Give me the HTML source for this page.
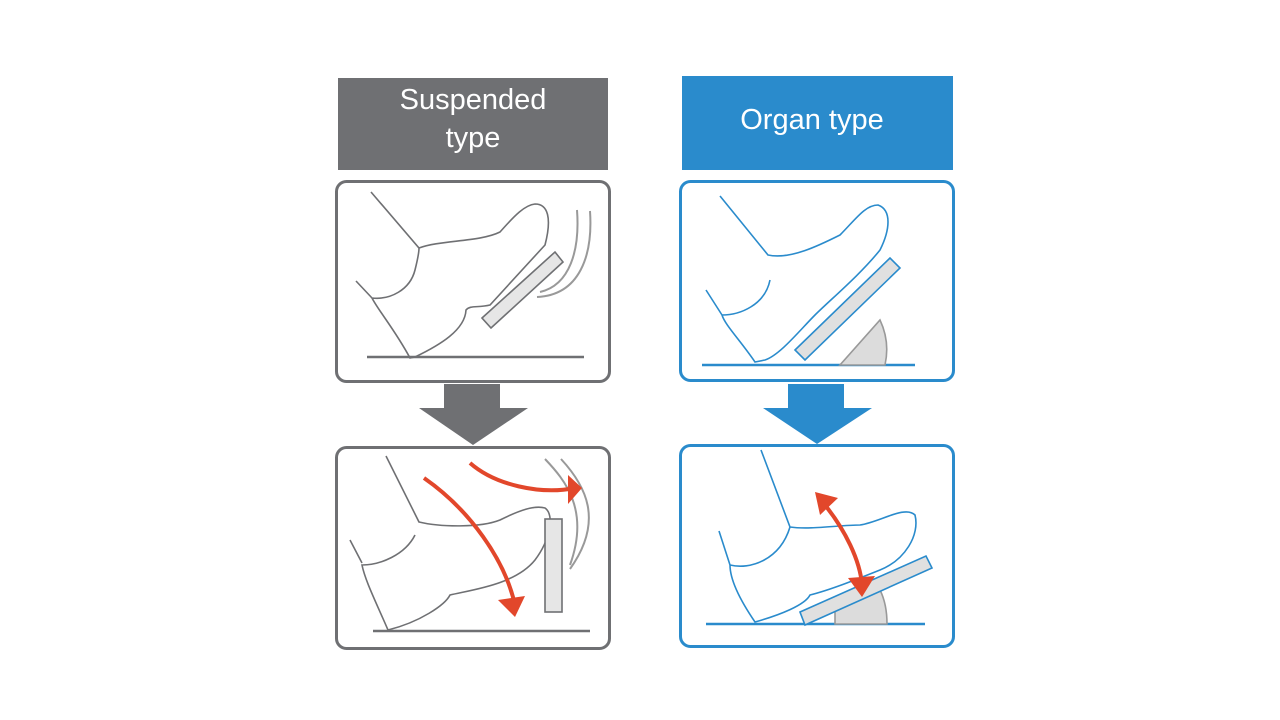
<!DOCTYPE html>
<html><head><meta charset="utf-8"><style>
html,body{margin:0;padding:0;background:#fff;width:1280px;height:720px;overflow:hidden}
svg{display:block}
text{font-family:"Liberation Sans",sans-serif;fill:#fff;font-size:29px}
</style></head><body>
<svg width="1280" height="720" viewBox="0 0 1280 720">
<defs>
<marker id="ah" markerWidth="6" markerHeight="6" refX="3" refY="3" orient="auto" markerUnits="userSpaceOnUse" viewBox="0 0 6 6"><path d="M0,0 L6,3 L0,6 z" fill="#e2472b"/></marker>
</defs>
<!-- headers -->
<rect x="338" y="78" width="270" height="92" fill="#6f7073"/>
<text x="473" y="109" text-anchor="middle">Suspended</text>
<text x="473" y="147" text-anchor="middle">type</text>
<rect x="682" y="76" width="271" height="94" fill="#2a8bcc"/>
<text x="812" y="129" text-anchor="middle">Organ type</text>

<!-- panels -->
<rect x="336.5" y="181.5" width="273" height="200" rx="10" fill="#fff" stroke="#6f7073" stroke-width="3"/>
<rect x="336.5" y="447.5" width="273" height="201" rx="10" fill="#fff" stroke="#6f7073" stroke-width="3"/>
<rect x="680.5" y="181.5" width="273" height="199" rx="10" fill="#fff" stroke="#2a8bcc" stroke-width="3"/>
<rect x="680.5" y="445.5" width="273" height="201" rx="10" fill="#fff" stroke="#2a8bcc" stroke-width="3"/>

<!-- arrows -->
<path d="M444,384 H500 V408 H528 L473,445 L419,408 H444 Z" fill="#6f7073"/>
<path d="M788,384 H844 V408 H872 L817,444 L763,408 H788 Z" fill="#2a8bcc"/>

<!-- top-left drawing -->
<g fill="none" stroke="#6f7073" stroke-width="1.6">
<line x1="367" y1="357" x2="584" y2="357" stroke-width="2.5"/>
<path d="M371,192 L419,248 C440,240 480,242 500,232 C515,215 525,205 535,204 C548,204 552,218 545,245 L490,305 C478,308 470,305 466,310 C465,330 440,345 415,357 L410,358 C395,330 378,310 372,298 C390,300 410,290 415,270 C418,258 419,250 419,248 M356,281 L372,298"/>
<path d="M577,210 C580,250 570,285 540,292 M590,211 C593,255 580,295 537,297" stroke="#999" stroke-width="2"/>
<path d="M482,318 L555,252 L563,262 L491,328 Z" fill="#e6e6e6"/>
</g>

<!-- bottom-left drawing -->
<g fill="none" stroke="#6f7073" stroke-width="1.6">
<line x1="373" y1="631" x2="590" y2="631" stroke-width="2.5"/>
<path d="M386,456 L419,522 C440,527 480,528 500,520 C520,510 535,505 545,508 C555,515 550,540 535,560 C515,585 470,590 450,595 C445,605 420,622 388,630 C375,600 365,580 362,565 C380,565 405,555 415,535 M350,540 L362,563"/>
<path d="M545,459 C565,480 590,510 570,565 M561,459 C585,485 605,520 570,569" stroke="#999" stroke-width="2"/>
<rect x="545" y="519" width="17" height="93" fill="#e6e6e6"/>
<path d="M424,478 C470,510 505,560 515,605" stroke="#e2472b" stroke-width="4" marker-end="url(#ah)"/>
<path d="M470,463 C495,485 540,495 575,488" stroke="#e2472b" stroke-width="4" marker-end="url(#ah)"/>
</g>
<g fill="#e2472b">
<path d="M498,600 L525,596 L515,617 Z"/>
<path d="M568,475 L582,488 L568,504 Z"/>
</g>

<!-- top-right drawing -->
<g fill="none" stroke="#2a8bcc" stroke-width="1.6">
<line x1="702" y1="365" x2="915" y2="365" stroke-width="2.5"/>
<path d="M880,320 A70,70 0 0 1 885,365 L840,365 Z" fill="#dcdcdc" stroke="#999"/>
<path d="M720,196 L768,255 C790,260 820,245 840,235 C855,220 865,205 878,205 C892,210 890,230 880,250 C860,275 830,300 815,315 C800,330 780,355 765,360 L755,362 C740,340 725,325 722,315 C740,315 765,305 770,280 M706,290 L722,315"/>
<path d="M795,350 L890,258 L900,268 L805,360 Z" fill="#e0e0e0"/>
</g>

<!-- bottom-right drawing -->
<g fill="none" stroke="#2a8bcc" stroke-width="1.6">
<line x1="706" y1="624" x2="925" y2="624" stroke-width="2.5"/>
<path d="M835,611 L880,590 C885,600 887,612 887,624 L835,624 Z" fill="#dcdcdc" stroke="#999"/>
<path d="M761,450 L790,527 C810,530 840,525 860,525 C880,522 905,505 915,515 C920,535 905,560 880,570 C855,580 830,590 810,595 C805,605 780,615 755,622 C740,600 730,580 730,565 C750,570 780,560 790,527 M719,531 L730,565"/>
<path d="M800,612 L926,556 L932,568 L805,625 Z" fill="#e0e0e0"/>
<path d="M825,505 C845,530 860,560 862,585" stroke="#e2472b" stroke-width="4"/>
</g>
<g fill="#e2472b">
<path d="M815,492 L838,498 L820,515 Z"/>
<path d="M848,578 L875,576 L862,597 Z"/>
</g>
</svg>
</body></html>
